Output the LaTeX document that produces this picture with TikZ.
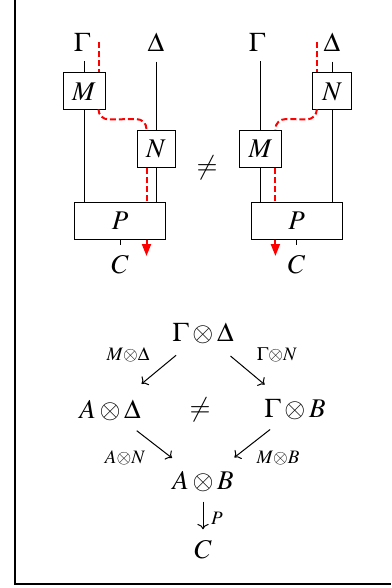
\documentclass[tikz,border=0pt]{standalone}
\usepackage{mathptmx}
\usepackage{fontspec}
\setmainfont{Liberation Serif}
\usetikzlibrary{arrows.meta, calc}

\begin{document}
\begin{tikzpicture}[x=0.5pt, y=-0.5pt,
  every node/.style={font=\fontsize{13.5}{15}\selectfont, inner sep=1pt},
  box/.style={draw, line width=0.5pt, minimum height=18.5pt, inner sep=0pt},
  wire/.style={line width=0.5pt},
  flow/.style={red, line width=1pt, dash pattern=on 3pt off 1.5pt},
  flowend/.style={red, line width=1pt, -{Triangle[length=6pt, width=4.5pt]}},
  lbl/.style={font=\fontsize{9.5}{11}\selectfont},
  mor/.style={->, line width=0.5pt}]
  \useasboundingbox (0,0) rectangle (391,588);
  % frame
  \draw[line width=0.6pt] (15,0) -- (15,584) -- (391,584);

  % left string diagram
  \node[box, minimum width=21pt] (ML) at (84,91.5) {$M$};
  \node[box, minimum width=19pt] (NL) at (156,149) {$N$};
  \node[box, minimum width=45.5pt] (PL) at (120,221) {$P$};
  \node (GL) at (82,42) {$\Gamma$};
  \node (DL) at (156,42) {$\Delta$};
  \node (CL) at (120,265) {$C$};
  \draw[wire, shorten <=4pt] (GL.south -| ML.north) -- (ML.north);
  \draw[wire] (ML.south) -- (ML.south |- PL.north);
  \draw[wire, shorten <=4pt] (DL.south -| NL.north) -- (NL.north);
  \draw[wire] (NL.south) -- (NL.south |- PL.north);
  \draw[wire] (PL.south) -- ++(0,5);
  % red path, left
  \coordinate (fl1) at ($(ML.north east)+(-7,0)$);
  \coordinate (fl2) at ($(NL.north west)+(10,0)$);
  \draw[flow] (GL -| fl1) -- (fl1);
  \draw[flow, rounded corners=5pt] ($(ML.south east)+(-7,0)$) -- ++(0,9) -- ($(fl2)+(0,-11)$) -- (fl2);
  \draw[flow] (fl2 |- NL.south) -- (fl2 |- PL.north);
  \draw[flowend] (fl2 |- PL.south) -- ++(0,16);

  \node (neqT) at (207,168) {$\neq$};

  % right string diagram
  \node[box, minimum width=19.5pt] (NR) at (332.2,91.5) {$N$};
  \node[box, minimum width=21.3pt] (MR) at (260.3,149) {$M$};
  \node[box, minimum width=45.5pt] (PR) at (296.5,221) {$P$};
  \node (GR) at (257,42) {$\Gamma$};
  \node (DR) at (332,42) {$\Delta$};
  \node (CR) at (296.5,265) {$C$};
  \draw[wire, shorten <=4pt] (GR.south -| MR.north) -- (MR.north);
  \draw[wire] (MR.south) -- (MR.south |- PR.north);
  \draw[wire, shorten <=4pt] (DR.south -| NR.north) -- (NR.north);
  \draw[wire] (NR.south) -- (NR.south |- PR.north);
  \draw[wire] (PR.south) -- ++(0,5);
  % red path, right
  \coordinate (fr1) at ($(NR.north west)+(4.6,0)$);
  \coordinate (fr2) at ($(MR.north east)+(-6.7,0)$);
  \draw[flow] (DR -| fr1) -- (fr1);
  \draw[flow, rounded corners=5pt] (fr1 |- NR.south) -- ++(0,9) -- ($(fr2)+(0,-11)$) -- (fr2);
  \draw[flow] (fr2 |- MR.south) -- (fr2 |- PR.north);
  \draw[flowend] (fr2 |- PR.south) -- ++(0,16);

  % commuting square
  \node (GD) at (203,333) {$\Gamma\otimes\Delta$};
  \node (AD) at (110,410) {$A\otimes\Delta$};
  \node (GB) at (295,410) {$\Gamma\otimes B$};
  \node (AB) at (203,482) {$A\otimes B$};
  \node (C) at (203,550) {$C$};
  \node (neqB) at (200,410) {$\neq$};
  \draw[mor, shorten <=7.5pt, shorten >=10.5pt] (GD) -- (AD);
  \draw[mor, shorten <=8pt, shorten >=10pt] (GD) -- (GB);
  \draw[mor, shorten <=6.5pt, shorten >=9.3pt] (AD) -- (AB);
  \draw[mor, shorten <=5.6pt, shorten >=9.7pt] (GB) -- (AB);
  \draw[mor, shorten <=3.5pt, shorten >=4.5pt] (AB) -- (C);
  \node[lbl] (lMD) at (128,355) {$M{\otimes}\Delta$};
  \node[lbl] (lGN) at (277,355) {$\Gamma{\otimes}N$};
  \node[lbl] (lAN) at (125,458) {$A{\otimes}N$};
  \node[lbl] (lMB) at (278,458) {$M{\otimes}B$};
  \node[lbl] (lP) at (217,518) {$P$};
\end{tikzpicture}
\end{document}
